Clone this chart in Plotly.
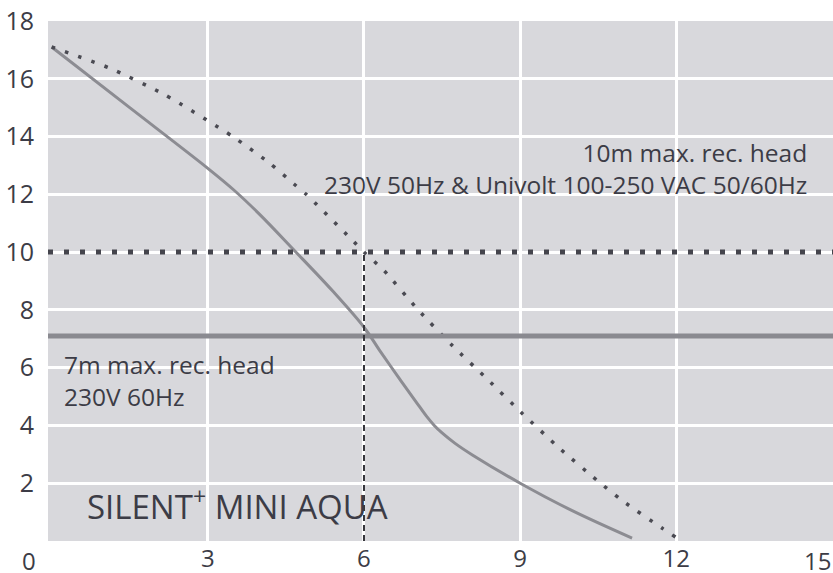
import plotly.graph_objects as go

# Pump curve: 230V 60Hz (solid grey)
curve60_x = [0, 1.5, 3, 3.5, 4, 4.64, 5.4, 6, 6.3, 6.68, 7.0, 7.2, 7.35, 7.5, 7.75, 8.09, 9, 10, 11.15]
curve60_y = [17.1, 15.0, 12.9, 12.15, 11.3, 10.1, 8.65, 7.4, 6.6, 5.62, 4.82, 4.32, 4.0, 3.74, 3.38, 2.97, 2.0, 1.05, 0.1]

# Pump curve: 230V 50Hz & Univolt (dotted)
curve50_x = [0, 1.1, 2.17, 3.48, 4.2, 4.66, 4.89, 5.75, 6.0, 6.39, 7.04, 7.7, 8.37, 9.05, 9.75, 10.47, 10.96, 11.73, 12.0]
curve50_y = [17.1, 16.38, 15.45, 14.0, 13.06, 12.35, 12.0, 10.46, 10.0, 9.35, 8.0, 6.76, 5.6, 4.4, 3.22, 2.11, 1.4, 0.44, 0.12]

# Recommended max heads
head_50 = 10
head_60 = 7.1
flow_at_head50 = 6

x_ticks = [3, 6, 9, 12]
y_ticks = [2, 4, 6, 8, 10, 12, 14, 16, 18]

FONT = "Open Sans"
TXT = "#3c3c46"

fig = go.Figure()
fig.add_trace(go.Scatter(x=curve60_x, y=curve60_y, mode="lines",
                         line=dict(color="#8c8c92", width=3, shape="spline", smoothing=1.0),
                         hoverinfo="skip", showlegend=False))
fig.add_trace(go.Scatter(x=curve50_x, y=curve50_y, mode="lines",
                         line=dict(color="#4a4a52", width=3.5, dash="3.5px,10.5px", shape="spline", smoothing=0.6),
                         hoverinfo="skip", showlegend=False))

shapes = [
    dict(type="line", xref="paper", yref="y", x0=0, x1=1, y0=head_60, y1=head_60,
         line=dict(color="#8a8a90", width=5), layer="above"),
    dict(type="line", xref="paper", yref="y", x0=0, x1=1, y0=head_50, y1=head_50,
         line=dict(color="#44444c", width=5, dash="5px,11px"), layer="above"),
    dict(type="line", xref="x", yref="y", x0=flow_at_head50, x1=flow_at_head50, y0=0, y1=head_50,
         line=dict(color="#33333a", width=2, dash="6px,4px"), layer="above"),
]

annotations = [
    dict(x=14.55, y=12.9, xref="x", yref="y", xanchor="right", yanchor="middle", align="right",
         text="10m max. rec. head<br>230V 50Hz & Univolt 100-250 VAC 50/60Hz",
         showarrow=False, font=dict(family=FONT, size=24.5, color=TXT)),
    dict(x=0.19, y=5.57, xref="x", yref="y", xanchor="left", yanchor="middle", align="left",
         text="7m max. rec. head<br>230V 60Hz",
         showarrow=False, font=dict(family=FONT, size=24.5, color=TXT)),
    dict(x=0.65, y=1.25, xref="x", yref="y", xanchor="left", yanchor="middle", align="left",
         text="SILENT<sup>+</sup> MINI AQUA",
         showarrow=False, font=dict(family=FONT, size=33, color=TXT)),
    dict(x=0, y=0, xref="paper", yref="paper", xanchor="center", yanchor="top", xshift=-19, yshift=-1,
         text="0", showarrow=False, font=dict(family=FONT, size=24, color=TXT)),
    dict(x=1, y=0, xref="paper", yref="paper", xanchor="right", yanchor="top", yshift=-1,
         text="15", showarrow=False, font=dict(family=FONT, size=24, color=TXT)),
]

fig.update_layout(
    width=833, height=573,
    margin=dict(l=48, r=0, t=21, b=32, autoexpand=False),
    paper_bgcolor="white", plot_bgcolor="#d8d8dc",
    shapes=shapes, annotations=annotations,
    font=dict(family=FONT, size=24, color=TXT),
)
fig.update_xaxes(range=[-0.07, 15.01], tickvals=x_ticks, ticktext=[str(v) for v in x_ticks],
                 showgrid=True, gridcolor="white", gridwidth=2.5, zeroline=False,
                 showline=False, ticks="", ticklabelstandoff=1, automargin=False,
                 tickfont=dict(family=FONT, size=24, color=TXT))
fig.update_yaxes(range=[0, 18], tickvals=y_ticks, ticktext=[str(v) for v in y_ticks],
                 showgrid=True, gridcolor="white", gridwidth=2.5, zeroline=False,
                 showline=False, ticks="", ticklabelstandoff=13, automargin=False,
                 tickfont=dict(family=FONT, size=25, color=TXT))

fig.write_html("out.html", config={"displayModeBar": False},
               post_script="document.body.style.margin='0';document.body.style.overflow='hidden';")
